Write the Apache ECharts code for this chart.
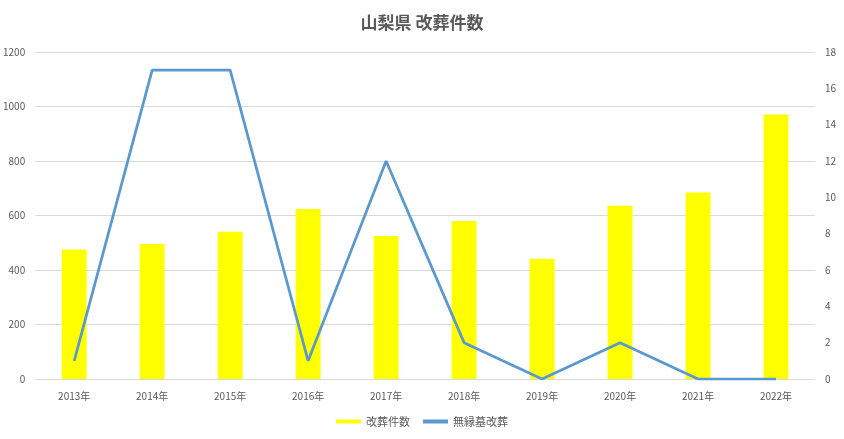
<!DOCTYPE html>
<html><head><meta charset="utf-8">
<script src="https://cdn.jsdelivr.net/npm/echarts@6/dist/echarts.min.js"></script>
<style>html,body{margin:0;padding:0;background:#fff}#c{width:844px;height:439px}</style>
</head><body><div id="c"></div>
<script>
const categories = ['2013年','2014年','2015年','2016年','2017年','2018年','2019年','2020年','2021年','2022年'];
const kaisouCounts = [475, 495, 540, 624, 525, 580, 441, 636, 684, 971];
const muenboCounts = [1, 17, 17, 1, 12, 2, 0, 2, 0, 0];
const titleText = '山梨県 改葬件数';
const font = '"Noto Sans CJK JP", "Noto Sans", sans-serif';
const chart = echarts.init(document.getElementById('c'));
chart.setOption({
  animation: false,
  title: { text: titleText, left: 'center', top: 9, textStyle: { fontFamily: font, fontSize: 17, fontWeight: 'bold', color: '#595959' } },
  legend: { bottom: 7, left: 'center', itemWidth: 25, itemHeight: 4, itemGap: 13, textStyle: { fontFamily: font, fontSize: 11, color: '#595959' },
    data: [{name: '改葬件数', icon: 'rect'}, {name: '無縁墓改葬', icon: 'rect'}] },
  grid: { left: 35, right: 29, top: 52, bottom: 60, containLabel: false },
  xAxis: { type: 'category', data: categories, axisLine: { show: false }, axisTick: { show: false },
    axisLabel: { fontFamily: font, fontSize: 10, color: '#595959', margin: 12 } },
  yAxis: [
    { type: 'value', min: 0, max: 1200, interval: 200, axisLine: { show: false }, axisTick: { show: false },
      axisLabel: { fontFamily: font, fontSize: 10, color: '#595959', margin: 10, formatter: v => String(v) }, splitLine: { lineStyle: { color: '#d9d9d9' } } },
    { type: 'value', min: 0, max: 18, interval: 2, axisLine: { show: false }, axisTick: { show: false },
      axisLabel: { fontFamily: font, fontSize: 10, color: '#595959', margin: 10 }, splitLine: { show: false } }
  ],
  series: [
    { name: '改葬件数', type: 'bar', data: kaisouCounts, barWidth: '32%', itemStyle: { color: '#ffff00' } },
    { name: '無縁墓改葬', type: 'line', yAxisIndex: 1, data: muenboCounts, symbol: 'none', lineStyle: { color: '#5a99d0', width: 2.75 }, itemStyle: { color: '#5a99d0' } }
  ]
});
</script></body></html>
